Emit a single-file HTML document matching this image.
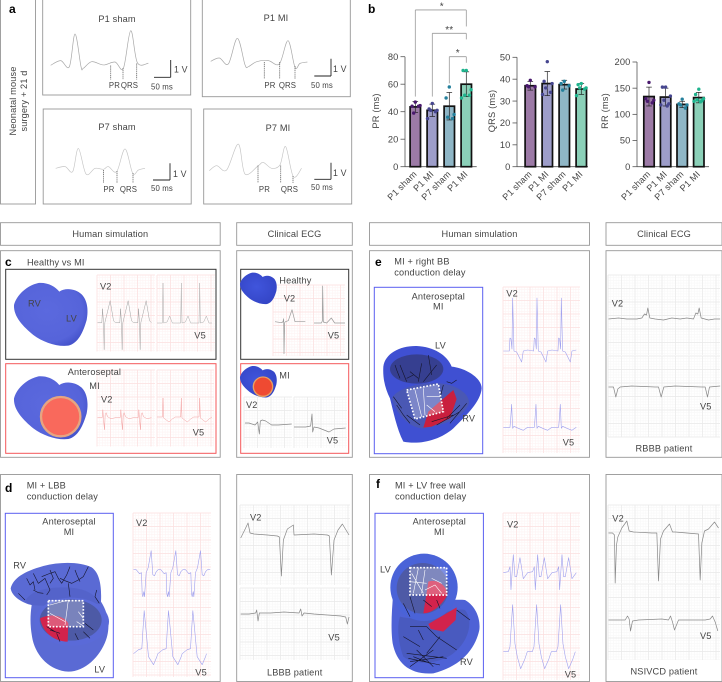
<!DOCTYPE html>
<html lang="en"><head><meta charset="utf-8"><title>Neonatal mouse and human ECG figure</title>
<style>
html,body{margin:0;padding:0;background:#fff;width:722px;height:682px;overflow:hidden}
svg{display:block}
text{font-family:"Liberation Sans",sans-serif;font-size:9.2px;fill:#444;letter-spacing:.15px}
.b{font-size:12px;font-weight:bold;fill:#000;letter-spacing:0}
.box{fill:#fff;stroke:#979797;stroke-width:.9}
.m{text-anchor:middle}
.ves{fill:none;stroke:#15152a;stroke-width:1.8;stroke-linejoin:round}
.wv{fill:none;stroke:#fff;stroke-width:1.8}
.dot{fill:none;stroke:#fff;stroke-width:5;stroke-dasharray:5 5}
</style></head><body>
<svg id="fig" width="722" height="682" viewBox="0 0 722 682" xmlns="http://www.w3.org/2000/svg">
<defs>
<radialGradient id="hb" cx=".45" cy=".45" r=".6"><stop offset="0" stop-color="#5b69de"/><stop offset=".8" stop-color="#5664da"/><stop offset="1" stop-color="#4654cc"/></radialGradient>
<radialGradient id="hb2" cx=".45" cy=".45" r=".6"><stop offset="0" stop-color="#4055dc"/><stop offset="1" stop-color="#3445c6"/></radialGradient>
<path id="heart" d="M42 270C50 240 80 212 115 204C145 202 165 215 178 230C195 218 225 220 245 238C262 255 266 285 260 315C250 350 235 385 205 392C170 396 130 382 100 360C70 335 40 305 42 270Z"/>
</defs>

<!-- boxes -->
<g>
<rect class="box" x=".5" y="-1" width="35" height="205"/>
<rect class="box" x="42.7" y="-1" width="148" height="96"/>
<rect class="box" x="202.3" y="-1" width="148" height="97.7"/>
<rect class="box" x="43.2" y="109" width="148" height="95"/>
<rect class="box" x="203.7" y="109" width="148" height="95"/>
</g>
<g>
<rect class="box" x=".5" y="222.7" width="219.7" height="22.6"/>
<rect class="box" x="236.7" y="222.7" width="115.6" height="22.6"/>
<rect class="box" x="369.5" y="222.7" width="220" height="22.6"/>
<rect class="box" x="606" y="222.7" width="116" height="22.6"/>
<rect class="box" x=".5" y="250.7" width="219.7" height="206.6"/>
<rect class="box" x="236.7" y="250.7" width="115.6" height="206.6"/>
<rect class="box" x="369.5" y="250.7" width="220" height="206.6"/>
<rect class="box" x="606" y="250.7" width="116" height="206.6"/>
<rect class="box" x=".5" y="474.5" width="219.7" height="207"/>
<rect class="box" x="236.7" y="474.5" width="115.6" height="207"/>
<rect class="box" x="369.5" y="474.5" width="220" height="207"/>
<rect class="box" x="606" y="474.5" width="116" height="207"/>
<rect x="5.7" y="269.3" width="210.3" height="90" fill="none" stroke="#333" stroke-width="1"/>
<rect x="5.7" y="363.7" width="210.3" height="89.6" fill="none" stroke="#f4575a" stroke-width="1"/>
<rect x="240.7" y="269.3" width="108" height="90" fill="none" stroke="#333" stroke-width="1"/>
<rect x="240.7" y="363.7" width="108" height="89.6" fill="none" stroke="#f4575a" stroke-width="1"/>
<rect x="5.3" y="513.3" width="108" height="164.4" fill="none" stroke="#5a5ff0" stroke-width="1"/>
<rect x="374.3" y="287.3" width="108.4" height="166.4" fill="none" stroke="#5a5ff0" stroke-width="1"/>
<rect x="375" y="513.3" width="108.4" height="164.4" fill="none" stroke="#5a5ff0" stroke-width="1"/>
</g>

<g id="grids"></g>
<g id="traces"></g>
<g id="scalebars"></g>

<!-- hearts in panel c -->
<g transform="translate(0,215) scale(.33333)">
<use href="#heart" fill="url(#hb)"/>
<g transform="translate(0,280)"><use href="#heart" fill="url(#hb)"/></g>
<circle cx="182" cy="605" r="59" fill="#f9695c" stroke="#e6a581" stroke-width="7"/>
<g transform="translate(699,71) scale(.5)"><use href="#heart" fill="url(#hb2)" transform="translate(0,0)"/></g>
<g transform="translate(699,351) scale(.5)"><use href="#heart" fill="url(#hb2)"/></g>
<circle cx="789" cy="515" r="29" fill="#ef4a32" stroke="#e8a060" stroke-width="4"/>
</g>

<!-- heart d -->
<g transform="translate(0,450) scale(.33333)">
<path fill="#5a6ad4" d="M32 415C40 385 70 365 130 348C180 335 240 335 275 352C300 370 305 410 303 455C325 490 332 530 318 570C300 620 255 665 205 665C150 662 110 620 98 570C90 530 90 500 95 465C70 460 35 440 32 415Z"/>
<path fill="#3f4ea8" d="M75 455C85 430 120 412 190 412C250 412 285 430 300 460C270 470 150 470 95 465Z" opacity=".22"/>
<ellipse cx="215" cy="515" rx="112" ry="72" fill="#5a6ad8"/>
<ellipse cx="212" cy="510" rx="93" ry="62" fill="#4d5aa6"/>
<path fill="#d2234c" d="M120 505C150 490 190 495 205 520L203 575C170 575 130 555 120 505Z"/>
<path class="ves" d="M80 385L90 405L100 395L105 420M100 370L115 400L135 385L150 420L140 435M125 380L145 372L165 365L175 385L185 400L200 375L210 350M180 385L195 392L215 400L235 390L250 380L265 350M225 360L232 378L240 395M205 400L210 440M55 430L65 440L75 450M290 420L285 440L298 460M100 420L115 428L130 430M150 360L160 385L150 400M250 545L260 555L270 565M225 550L235 570M170 550L180 575M140 530L165 545M255 520L280 540M180 550L150 540"/>
<rect x="143" y="450" width="107" height="80" fill="#fff" fill-opacity=".25"/>
<path class="wv" d="M205 450L195 525M150 465L205 450M150 490L195 515M235 485L250 505M230 515L250 528"/>
<rect class="dot" x="145" y="452" width="105" height="78"/>
</g>

<!-- heart e -->
<g transform="translate(360,215) scale(.33333)">
<path fill="#3f50d2" d="M70 455C75 415 120 392 170 393C220 395 262 420 275 455C320 460 365 490 365 520C362 560 320 600 280 640C240 675 180 690 130 680C110 640 100 590 90 550C75 520 68 490 70 455Z"/>
<ellipse cx="170" cy="462" rx="80" ry="44" fill="#363f90"/>
<path fill="#4a58b4" d="M95 550C110 520 180 500 240 505C300 510 335 545 325 570C310 600 280 625 190 640C150 640 110 600 95 550Z"/>
<path fill="#c91f3e" d="M190 638L205 590L280 525L290 552L270 610L215 635Z"/>
<path class="ves" d="M105 450L112 470L120 490M120 450L130 475L140 500M150 470L175 490M185 445L175 500M205 420L210 450L215 480M160 480L140 490M230 450L190 500M250 510L240 550M260 500L275 505L290 495M300 570L280 590L260 610M320 565L270 625M215 620L280 600M140 600L160 615L180 630M110 570L130 600L150 625M100 545L125 580M230 630L300 590"/>
<path d="M140 525L235 507L250 590L165 612Z" fill="#fff" fill-opacity=".28"/>
<path class="wv" d="M165 525L185 605M190 520L195 600M200 545L240 545M200 570L225 590"/>
<path class="dot" d="M140 525L235 507L250 590L165 612Z"/>
</g>

<!-- heart f -->
<g transform="translate(360,450) scale(.33333)">
<path fill="#4e62d6" d="M100 430C150 470 260 445 315 450C350 470 362 510 358 540C345 600 300 650 220 670C150 675 110 640 98 580C92 540 95 480 100 430Z"/>
<path fill="#4553ad" opacity=".55" d="M120 500C200 520 270 470 315 480C340 510 330 570 280 610C240 640 170 650 130 620C115 580 110 530 120 500Z"/>
<path fill="#d2234c" d="M205 522L290 472L287 510L250 545L212 537Z"/>
<circle cx="192" cy="412" r="101" fill="#4a63d8"/>
<ellipse cx="188" cy="415" rx="78" ry="76" fill="#4e5aa6"/>
<path fill="#d2234c" d="M190 490L205 395C235 385 262 410 262 435C240 475 210 490 190 490Z"/>
<path class="ves" d="M130 460L150 500M150 440L165 490M190 450L215 470M230 450L240 475M150 530L200 530L230 560M175 540L190 570M230 560L290 600M140 610L260 625M150 635L250 620M170 600L220 650M130 560L180 590M240 560L200 610M290 480L330 510M150 650L220 600M145 625L240 645M160 620L210 640"/>
<rect x="150" y="352" width="110" height="82" fill="#fff" fill-opacity=".28"/>
<path class="wv" d="M155 370L190 430M175 355L160 430M195 360L185 430M150 395L200 400M215 385L245 400M195 420L225 405L245 430"/>
<rect class="dot" x="150" y="353" width="110" height="82"/>
</g>

<g id="charts"></g>

<!-- text -->
<g>
<text class="b" x="9" y="13">a</text>
<text class="b" x="368" y="13">b</text>
<text class="b" x="5" y="266">c</text>
<text class="b" x="5" y="492">d</text>
<text class="b" x="375" y="266">e</text>
<text class="b" x="376" y="488">f</text>
<text class="m" transform="translate(16,101) rotate(-90)">Neonatal mouse</text>
<text class="m" transform="translate(27,101) rotate(-90)">surgery + 21 d</text>
<text class="m" x="117" y="22">P1 sham</text>
<text class="m" x="276" y="21">P1 MI</text>
<text class="m" x="117" y="130">P7 sham</text>
<text class="m" x="278" y="131">P7 MI</text>
<g>
<text class="m" x="114.5" y="88" style="font-size:7.8px">PR</text><text class="m" x="129.5" y="88" style="font-size:7.8px">QRS</text>
<text class="m" x="270" y="88" style="font-size:7.8px">PR</text><text class="m" x="287.5" y="88" style="font-size:7.8px">QRS</text>
<text class="m" x="109" y="192" style="font-size:7.8px">PR</text><text class="m" x="128.5" y="192" style="font-size:7.8px">QRS</text>
<text class="m" x="264.5" y="192" style="font-size:7.8px">PR</text><text class="m" x="289.5" y="192" style="font-size:7.8px">QRS</text>
<text x="151" y="89.5" style="font-size:7.8px">50 ms</text><text x="174" y="72.5" style="font-size:8.8px">1 V</text>
<text x="311" y="88" style="font-size:7.8px">50 ms</text><text x="333" y="72" style="font-size:8.8px">1 V</text>
<text x="151" y="191" style="font-size:7.8px">50 ms</text><text x="173" y="177" style="font-size:8.8px">1 V</text>
<text x="311" y="190" style="font-size:7.8px">50 ms</text><text x="333" y="176" style="font-size:8.8px">1 V</text>
</g>
<text class="m" x="110.3" y="236.8">Human simulation</text>
<text class="m" x="294.5" y="236.8">Clinical ECG</text>
<text class="m" x="479.5" y="236.8">Human simulation</text>
<text class="m" x="664" y="236.8">Clinical ECG</text>
<text x="27" y="265.7">Healthy vs MI</text>
<text x="28" y="306.7">RV</text><text x="66" y="321.7">LV</text><text x="100" y="289.7">V2</text><text x="194.3" y="338.3">V5</text>
<text x="67.7" y="375">Anteroseptal</text><text x="89.3" y="389">MI</text><text x="101" y="402.3">V2</text><text x="192.7" y="435.7">V5</text>
<text x="279.3" y="283.7">Healthy</text><text x="283.7" y="301.3">V2</text><text x="327.7" y="338.3">V5</text>
<text x="279.3" y="378.3">MI</text><text x="246" y="408">V2</text><text x="326.7" y="443.3">V5</text>
<text x="26.7" y="488.7">MI + LBB</text><text x="26.7" y="499.3">conduction delay</text>
<text class="m" x="69" y="524.7">Anteroseptal</text><text class="m" x="69" y="535">MI</text>
<text x="13.3" y="568.3">RV</text><text x="94.3" y="672.3">LV</text><text x="136" y="526">V2</text><text x="195.3" y="675.3">V5</text>
<text x="250" y="520.7">V2</text><text x="328.3" y="640.7">V5</text><text class="m" x="294.7" y="675.7">LBBB patient</text>
<text x="394.3" y="264.7">MI + right BB</text><text x="394.3" y="275.3">conduction delay</text>
<text class="m" x="438.3" y="299.3">Anteroseptal</text><text class="m" x="438.3" y="309.7">MI</text>
<text x="435" y="348.7">LV</text><text x="462.3" y="421.7">RV</text><text x="506.3" y="296.7">V2</text><text x="562.7" y="445.7">V5</text>
<text x="611.7" y="306.7">V2</text><text x="700" y="409.7">V5</text><text class="m" x="664" y="451.5">RBBB patient</text>
<text x="395" y="488.7">MI + LV free wall</text><text x="395" y="499.3">conduction delay</text>
<text class="m" x="439.3" y="524.7">Anteroseptal</text><text class="m" x="439.3" y="535">MI</text>
<text x="380" y="572.3">LV</text><text x="460" y="665">RV</text><text x="507" y="527.7">V2</text><text x="564.7" y="677.3">V5</text>
<text x="612.3" y="521.3">V2</text><text x="700" y="639">V5</text><text class="m" x="664" y="674.7">NSIVCD patient</text>
</g>
</svg>
<script>
// ---------- panel b data ----------
const groups = ['P1 sham', 'P1 MI', 'P7 sham', 'P1 MI'];
const prMeans = [43.5, 41, 44, 60];
const prErrors = [4, 4.5, 10, 9];
const prPoints = [[47, 44, 44.5, 39, 44], [46, 42, 41, 41, 40, 35], [58, 50, 38, 36, 35], [70, 70, 56, 52, 52, 50]];
const prTicks = [0, 20, 40, 60, 80];
const qrsMeans = [37, 38, 37.5, 35.5];
const qrsErrors = [2, 5.5, 2, 2.5];
const qrsPoints = [[39.5, 37, 36.5, 36.5], [48, 39, 38, 36, 34, 33], [39, 38, 37, 35], [38, 37.5, 36, 36, 35.5, 32.5]];
const qrsTicks = [0, 10, 20, 30, 40, 50];
const rrMeans = [134, 133, 119, 132];
const rrErrors = [18, 17, 6, 10];
const rrPoints = [[161, 130, 127, 125, 122], [152, 152, 135, 127, 120, 118, 116], [129, 120, 118, 118, 112], [148, 138, 130, 128, 126, 125, 124]];
const rrTicks = [0, 50, 100, 150, 200];
const bracketFrom = [0, 1, 2];
const bracketTo = [3, 3, 3];
const bracketTop = [114, 97, 80];
const bracketLeftEnd = [51, 51, 60.6];
const bracketRightEnd = [102, 92.6, 75.6];
const bracketLabels = ['*', '**', '*'];
const barFill = ['#9c7aa6', '#9d9dc9', '#8fb6c6', '#8bd0b8'];
const dotFill = ['#4a1a6e', '#46468f', '#25809c', '#1fb48e'];

// ---------- panel a waveform data (t in ms, v in volts) ----------
const p1ShamT = [0,30,56,73,91,98,123,158,193,218,240,260,293];
const p1ShamV = [0,.27,-.08,1.81,-.08,-.17,.21,.02,.19,-.17,2,.15,.12];
const p1MiT = [0,26,53,80,103,113,138,173,206,232,253,268,290];
const p1MiV = [0,.19,-.15,1.33,-.21,-.31,-.02,.04,-.15,1.19,-.35,-.12,-.04];
const p7ShamT = [0,28,51,68,91,118,143,158,183,208,231,248,268];
const p7ShamV = [0,.1,-.19,1.15,-.33,0,-.06,.1,-.19,1.12,-.29,-.1,0];
const p7MiT = [0,22,52,87,107,147,162,187,212,229,252,277];
const p7MiV = [-.04,.25,0,1.5,-.23,.25,.44,.1,.29,1.35,-.38,.1];

// ---------- ECG beat data (t in time units, v in amplitude units) ----------
const cHealthyV2T = [0,13,15,18,20,22,38,48,54];
const cHealthyV2V = [0,0,14,0,-27,0,22,2,0];
const cHealthyV5T = [0,16,18,20,30,38,46,55];
const cHealthyV5V = [0,0,40,0,1,7,0,0];
const cMiV2T = [0,14,16,18,21,23,26,30,40,54];
const cMiV2V = [0,0,8,-2,-12,3,5,1,-1,0];
const cMiV5T = [0,16,18,20,24,36,46,55];
const cMiV5V = [1,1,20,0,-1,-4,-1,1];
const clinHealthyV2T = [0,20,24,26,27,29,31,40,51,60,91];
const clinHealthyV2V = [0,-1,0,3,-32,-1,0,1,12,0,0];
const clinHealthyV5T = [0,22,25,26,28,38,52,62,93];
const clinHealthyV5V = [0,0,2,37,1,0,5,0,0];
const clinMiV2T = [0,12,30,38,43,46,52,62,80,100,140];
const clinMiV2V = [1,1,-1,2,-10,3,4,3,-1,-1,0];
const clinMiV5T = [0,35,50,54,56,60,75,105,120,155];
const clinMiV5V = [0,0,1,13,-5,0,-1,-5,-2,-1];
const dV2T = [0,8,18,24,26,28,31,33,38,44,53,58,63,68,74];
const dV2V = [2,2,-2,-1,-22,-25,-20,-25,-1,4,21,-3,-4,0,2];
const dV5T = [0,15,25,28,32,38,45,60,70,73];
const dV5V = [-2,2,3,20,41,20,-5,-13,-5,-2];
const dClinV2T = [0,12,22,28,40,80,110,116,122,128,140,158,160,220,260,266,272,280,292,305,325];
const dClinV2V = [-3,5,12,2,1,0,-1,-2,-41,-5,6,10,0,1,0,-1,-40,-5,5,11,0];
const dClinV5T = [0,25,45,48,52,56,90,130,175,180,184,190,220,260,300,315,320,325];
const dClinV5V = [0,0,1,4,-7,1,1,2,1,5,-2,1,0,-1,-2,-3,-10,-3];
const eV2T = [0,18,20,23,26,28,32,40,55,60,73];
const eV2V = [0,0,13,12,2,53,0,-1,-11,0,1];
const eV5T = [0,20,22,25,28,32,45,60,73];
const eV5V = [0,0,8,23,-1,1,-1,-3,0];
const eClinV2T = [0,30,55,62,85,100,108,114,118,124,140,165,190,215,235,255,262,268,272,278,300,318,335];
const eClinV2V = [0,1,0,0,0,1,5,4,11,1,0,-1,1,0,1,0,6,5,11,1,-1,0,0];
const eClinV5T = [0,15,22,28,35,70,140,150,158,166,200,280,290,297,303,335];
const eClinV5V = [0,0,-10,-2,0,1,0,0,-10,0,1,0,0,-10,0,1];
const fV2T = [0,15,20,23,30,35,40,50,60,73];
const fV2V = [0,1,6,-17,18,-4,-4,15,-6,0];
const fV5T = [0,15,20,28,35,42,52,65,72];
const fV5V = [0,0,5,47,8,-5,-17,-7,0];
const fClinV2T = [0,12,18,20,24,28,40,55,62,75,130,145,150,156,165,183,192,200,270,275,280,288,300,318,330];
const fClinV2V = [0,0,-2,-50,-12,-4,5,12,2,1,0,0,-48,-6,2,9,1,1,-1,-47,-10,2,4,11,5];
const fClinV5T = [0,50,57,62,66,72,90,160,180,186,192,198,210,290,305,312,320,328];
const fClinV5V = [0,0,4,1,-11,-1,0,1,0,4,-2,-10,0,0,1,4,-2,-11];

const NS = 'http://www.w3.org/2000/svg';
function mk(tag, attrs, parent) {
  const el = document.createElementNS(NS, tag);
  for (const k in attrs) el.setAttribute(k, attrs[k]);
  parent.appendChild(el);
  return el;
}
const grids = document.getElementById('grids');
const traces = document.getElementById('traces');
const bars = document.getElementById('scalebars');
const charts = document.getElementById('charts');

function gridPath(x, y, w, h, step) {
  let d = '';
  for (let i = 0; i <= w + .01; i += step) d += 'M' + (x + i).toFixed(1) + ' ' + y + 'V' + (y + h);
  for (let j = 0; j <= h + .01; j += step) d += 'M' + x + ' ' + (y + j).toFixed(1) + 'H' + (x + w);
  return d;
}
function drawGrid(x, y, w, h, pink) {
  const minor = mk('path', {d: gridPath(x, y, w, h, 2.7), fill: 'none', stroke: pink ? '#fef4f4' : '#f8f8f8', 'stroke-width': .6}, grids);
  
  
  const major = mk('path', {d: gridPath(x, y, w, h, 13.5), fill: 'none', stroke: pink ? '#fbdfdf' : '#e9e9e9', 'stroke-width': .7}, grids);
  
  
}
// axis-like functions mapping waveform units to the page
function smoothPath(p) {
  let d = 'M' + p[0][0] + ' ' + p[0][1];
  for (let i = 0; i < p.length - 1; i++) {
    const a = p[Math.max(0, i - 1)], b = p[i], c = p[i + 1], e = p[Math.min(p.length - 1, i + 2)];
    d += 'C' + (b[0] + (c[0] - a[0]) / 6).toFixed(2) + ' ' + (b[1] + (c[1] - a[1]) / 6).toFixed(2) + ' ' +
      (c[0] - (e[0] - b[0]) / 6).toFixed(2) + ' ' + (c[1] - (e[1] - b[1]) / 6).toFixed(2) + ' ' + c[0].toFixed(2) + ' ' + c[1].toFixed(2);
  }
  return d;
}
function drawTrace(name, t, v, o) {
  const sx = u => o.x0 + u * (o.tScale || 1 / 3);
  const sy = u => o.base - u * (o.vScale || 1);
  const pts = [];
  const period = t[t.length - 1];
  const n = o.beats || 1;
  for (let b = 0; b < n; b++) {
    for (let i = 0; i < t.length; i++) {
      if (b > 0 && i === 0) continue;
      const u = t[i] + b * period;
      if (o.span && u > o.span) continue;
      pts.push([sx(u), sy(v[i])]);
    }
  }
  const d = o.smooth ? smoothPath(pts) : 'M' + pts.map(p => p[0].toFixed(2) + ' ' + p[1].toFixed(2)).join('L');
  const el = mk('path', {d: d, fill: 'none', stroke: o.color, 'stroke-width': o.width || .5, 'stroke-linejoin': 'round'}, traces);
  
  
}
function addLine(parent, x1, y1, x2, y2, stroke, sw, dash, name) {
  const el = mk('line', {x1: x1, y1: y1, x2: x2, y2: y2, stroke: stroke, 'stroke-width': sw}, parent);
  if (dash) el.setAttribute('stroke-dasharray', dash);
  
  
  return el;
}
// grids
drawGrid(97, 275, 58, 76.5, true); drawGrid(157, 275, 58, 76.5, true);
drawGrid(97, 370, 58, 76.5, true); drawGrid(157, 370, 57, 76.5, true);
drawGrid(273, 285, 72, 71, true);
drawGrid(244, 397, 48, 51, false); drawGrid(294, 397, 53, 51, false);
drawGrid(133, 513, 78, 164, true);
drawGrid(240, 505, 110, 80, false); drawGrid(240, 588, 110, 72, false);
drawGrid(503, 287, 77, 166, true);
drawGrid(608, 275, 112, 80, false); drawGrid(608, 356, 112, 81, false);
drawGrid(503, 513, 77, 167, true);
drawGrid(608, 505, 112, 78, false); drawGrid(608, 584, 112, 76, false);

// panel a traces
const aGray = '#a8a8a8';
drawTrace('p1-sham-trace', p1ShamT, p1ShamV, {x0: 50.7, base: 65.3, vScale: 17.3, color: aGray, width: .7, smooth: true});
drawTrace('p1-mi-trace', p1MiT, p1MiV, {x0: 210.7, base: 61.3, vScale: 17.3, color: aGray, width: .7, smooth: true});
drawTrace('p7-sham-trace', p7ShamT, p7ShamV, {x0: 55.7, base: 168.3, vScale: 17.3, color: '#c4c4c4', width: .65, smooth: true});
drawTrace('p7-mi-trace', p7MiT, p7MiV, {x0: 209.3, base: 170, vScale: 17.3, color: '#c4c4c4', width: .65, smooth: true});

// interval dashed markers [x, top, bottom] expressed per panel
const dashMarks = [[110.7,65.5,79.5],[123,68,79.5],[136.7,63.5,79.5],[264.3,62,79],[279.7,62,79],[295,66,79],[103.5,170,183],[117,171,183],[133,173,183],[258,165.5,183],[280.7,165.5,183],[293,176,183]];
dashMarks.forEach(m => addLine(bars, m[0], m[1], m[0], m[2], '#666', .8, '1.2 .7', 'interval-marker'));
const scaleBars = [[154,170.7,60,77.3],[314.3,331,58.7,76],[153,170,163.3,180],[314.3,331,162.7,179.3]];
scaleBars.forEach(s => {
  addLine(bars, s[1], s[2], s[1], s[3], '#222', .9, null, 'voltage-scale-bar');
  addLine(bars, s[0], s[3], s[1], s[3], '#222', .9, null, 'time-scale-bar');
});

// panel c
const pinkLine = '#f3a0a0', grayLine = '#9a9a9a', lav = '#a0a1ee';
drawTrace('healthy-sim-v2', cHealthyV2T, cHealthyV2V, {x0: 97.5, base: 322.7, beats: 4, span: 172, color: '#a2a2a2'});
drawTrace('healthy-sim-v5', cHealthyV5T, cHealthyV5V, {x0: 157, base: 323, beats: 4, span: 173, color: '#aeaeae'});
drawTrace('mi-sim-v2', cMiV2T, cMiV2V, {x0: 97.5, base: 417.7, beats: 4, span: 172, color: pinkLine});
drawTrace('mi-sim-v5', cMiV5T, cMiV5V, {x0: 157, base: 418, beats: 4, span: 170, color: pinkLine});
drawTrace('healthy-clinical-v2', clinHealthyV2T, clinHealthyV2V, {x0: 275, base: 321.7, color: grayLine, width: .7});
drawTrace('healthy-clinical-v5', clinHealthyV5T, clinHealthyV5V, {x0: 314, base: 323, color: grayLine, width: .7});
drawTrace('mi-clinical-v2', clinMiV2T, clinMiV2V, {x0: 245, base: 424, color: '#888', width: .7});
drawTrace('mi-clinical-v5', clinMiV5T, clinMiV5V, {x0: 294, base: 427, color: '#888', width: .7});
// panel d
drawTrace('d-sim-v2', dV2T, dV2V, {x0: 133.5, base: 571.7, beats: 4, span: 232, color: lav, width: .6});
drawTrace('d-sim-v5', dV5T, dV5V, {x0: 133.5, base: 651.7, beats: 4, span: 232, color: lav, width: .6});
drawTrace('d-clinical-v2', dClinV2T, dClinV2V, {x0: 240.7, base: 535, color: '#888', width: .7});
drawTrace('d-clinical-v5', dClinV5T, dClinV5V, {x0: 240.7, base: 614, color: '#888', width: .7});
// panel e
drawTrace('e-sim-v2', eV2T, eV2V, {x0: 503.3, base: 351, beats: 4, span: 230, color: lav, width: .6});
drawTrace('e-sim-v5', eV5T, eV5V, {x0: 503.3, base: 427.3, beats: 4, span: 230, color: lav, width: .6});
drawTrace('e-clinical-v2', eClinV2T, eClinV2V, {x0: 608.5, base: 319, color: '#888', width: .7});
drawTrace('e-clinical-v5', eClinV5T, eClinV5V, {x0: 608.5, base: 387, color: '#888', width: .7});
// panel f
drawTrace('f-sim-v2', fV2T, fV2V, {x0: 503.3, base: 572.7, beats: 4, span: 230, color: lav, width: .6});
drawTrace('f-sim-v5', fV5T, fV5V, {x0: 503.3, base: 651.7, beats: 4, span: 230, color: lav, width: .6});
drawTrace('f-clinical-v2', fClinV2T, fClinV2V, {x0: 608.5, base: 533, color: '#888', width: .7});
drawTrace('f-clinical-v5', fClinV5T, fClinV5V, {x0: 608.5, base: 620, color: '#888', width: .7});

// bar charts
const y0 = 166.7;
function drawChart(cfg) {
  const g = mk('g', {}, charts);
  
  
  const y = v => y0 - v * (y0 - cfg.topY) / cfg.max;
  const x = i => cfg.x0 + i * cfg.step;
  cfg.ticks.forEach(t => {
    addLine(g, cfg.axis - 4.5, y(t), cfg.axis, y(t), '#555', .8, null, cfg.name + '-y-tick');
    const lab = mk('text', {x: cfg.axis - 6.5, y: y(t) + 3.2, 'text-anchor': 'end', style: 'font-size:9.3px'}, g);
    lab.textContent = t;
    
    
  });
  addLine(g, cfg.axis, y(cfg.max), cfg.axis, y0, '#555', .8, null, cfg.name + '-y-axis');
  addLine(g, cfg.axis, y0, cfg.end, y0, '#555', .8, null, cfg.name + '-x-axis');
  const title = mk('text', {class: 'm', transform: 'translate(' + cfg.titleX + ',111) rotate(-90)', style: 'font-size:9.3px'}, g);
  title.textContent = cfg.title;
  
  
  groups.forEach((lbl, i) => {
    const bar = mk('rect', {x: x(i) - 5.2, y: y(cfg.means[i]), width: 10.4, height: y0 - y(cfg.means[i]), fill: barFill[i], stroke: '#111', 'stroke-width': 1.7}, g);
    
    
    const hi = y(cfg.means[i] + cfg.errors[i]), lo = y(cfg.means[i] - cfg.errors[i]);
    addLine(g, x(i), hi, x(i), lo, '#222', .7, null, cfg.name + '-error-bar');
    addLine(g, x(i) - 2.8, hi, x(i) + 2.8, hi, '#222', .7, null, cfg.name + '-error-cap');
    addLine(g, x(i) - 2.8, lo, x(i) + 2.8, lo, '#222', .7, null, cfg.name + '-error-cap');
    cfg.points[i].forEach((p, j) => {
      const off = (j === 0 ? 0 : ((j % 2) ? -1 : 1) * (1 + (j % 3)) * 1.6);
      const dot = mk('circle', {cx: x(i) + off, cy: y(p), r: 1.7, fill: dotFill[i]}, g);
      
      
    });
    const t = mk('text', {transform: 'translate(' + (x(i) + 2) + ',' + (y0 + 8) + ') rotate(-45)', 'text-anchor': 'end', style: 'font-size:9.1px'}, g);
    t.textContent = lbl;
    
    
  });
  return {x: x, y: y, g: g};
}
const pr = drawChart({name: 'pr', title: 'PR (ms)', means: prMeans, errors: prErrors, points: prPoints, ticks: prTicks, max: 80, topY: 56.7, x0: 415.3, step: 17, axis: 405, end: 476.7, titleX: 379});
drawChart({name: 'qrs', title: 'QRS (ms)', means: qrsMeans, errors: qrsErrors, points: qrsPoints, ticks: qrsTicks, max: 50, topY: 57.3, x0: 530.3, step: 17, axis: 517, end: 588, titleX: 495});
drawChart({name: 'rr', title: 'RR (ms)', means: rrMeans, errors: rrErrors, points: rrPoints, ticks: rrTicks, max: 200, topY: 62, x0: 649, step: 16.6, axis: 637, end: 709, titleX: 608});
bracketFrom.forEach((f, i) => {
  const xa = pr.x(f), xb = pr.x(bracketTo[i]), top = pr.y(bracketTop[i]);
  addLine(pr.g, xa, pr.y(bracketLeftEnd[i]), xa, top, '#9a9a9a', .8, null, 'significance-bracket-left');
  addLine(pr.g, xa, top, xb, top, '#9a9a9a', .8, null, 'significance-bracket-top');
  addLine(pr.g, xb, top, xb, pr.y(bracketRightEnd[i]), '#9a9a9a', .8, null, 'significance-bracket-right');
  const s = mk('text', {class: 'm', x: (xa + xb) / 2 + (i === 0 ? 1 : 0), y: top - .5, style: 'font-size:10px'}, pr.g);
  s.textContent = bracketLabels[i];
  
  
});
</script>
</body></html>
